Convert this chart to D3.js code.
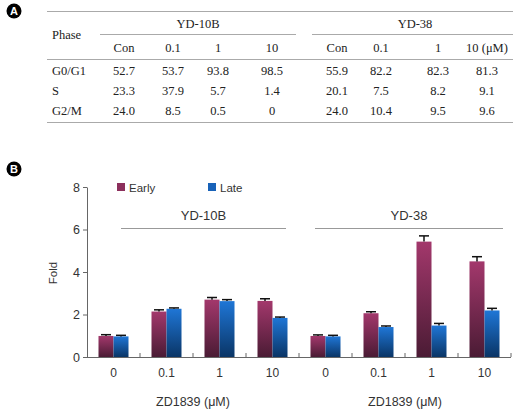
<html>
<head>
  <script src="https://d3js.org/d3.v7.min.js"></script>
  <style>
  body { margin: 0; background: #fff; }
  .tbl text { font-family: "Liberation Serif", "Times New Roman", serif; font-size: 12.5px; fill: #222; }
  .chart text { font-family: "Liberation Sans", Arial, sans-serif; font-size: 11px; fill: #333; }
  </style>
</head>
<body>
  <svg id="fig" width="519" height="411"></svg>
  <script>

// ---- panel A data ----
var cellLines = ["YD-10B", "YD-38"];
var doseHeads = ["Con", "0.1", "1", "10", "Con", "0.1", "1", "10 (\u03bcM)"];
var phases = ["G0/G1", "S", "G2/M"];
var phaseTable = [
  ["52.7", "53.7", "93.8", "98.5", "55.9", "82.2", "82.3", "81.3"],
  ["23.3", "37.9", "5.7", "1.4", "20.1", "7.5", "8.2", "9.1"],
  ["24.0", "8.5", "0.5", "0", "24.0", "10.4", "9.5", "9.6"]
];

// ---- panel B data ----
var doses = ["0", "0.1", "1", "10"];
var series = ["Early", "Late"];
var earlyVals = [0.99, 2.14, 2.70, 2.64, 0.99, 2.06, 5.43, 4.50];
var lateVals = [0.97, 2.27, 2.63, 1.84, 0.97, 1.41, 1.48, 2.19];
var earlyErr = [0.06, 0.08, 0.10, 0.10, 0.05, 0.07, 0.27, 0.22];
var lateErr = [0.05, 0.04, 0.07, 0.04, 0.05, 0.05, 0.10, 0.10];
var yTicks = [0, 2, 4, 6, 8];

var svg = d3.select("#fig");

// badge circles
function badge(x, y, letter) {
  svg.append("circle").attr("cx", x).attr("cy", y).attr("r", 7.5).attr("fill", "#000");
  svg.append("text").attr("x", x).attr("y", y + 4)
    .attr("text-anchor", "middle")
    .style("font-family", "Liberation Sans, Arial, sans-serif")
    .style("font-size", "11px").style("font-weight", "bold")
    .attr("fill", "#fff").text(letter);
}
badge(14, 11, "A");
badge(14, 169, "B");

// ---------- table ----------
var tbl = svg.append("g").attr("class", "tbl");
var colPos = [124, 173, 218, 272, 337, 381, 438, 487];
var rowY = d3.scalePoint().domain(phases).range([74.5, 115]);
var lineCol = "#aaa";

function hline(x1, x2, y) {
  tbl.append("line").attr("x1", x1).attr("x2", x2).attr("y1", y).attr("y2", y)
    .attr("stroke", lineCol).attr("stroke-width", 1);
}
hline(47, 513, 11.5);
hline(100, 296, 34.5);
hline(312, 513, 34.5);
hline(47, 513, 59.5);
hline(47, 513, 122.5);

tbl.append("text").attr("x", 52).attr("y", 39).text("Phase");
tbl.append("text").attr("x", 198).attr("y", 28).attr("text-anchor", "middle").text(cellLines[0]);
tbl.append("text").attr("x", 415).attr("y", 28).attr("text-anchor", "middle").text(cellLines[1]);

tbl.selectAll(".hd").data(doseHeads).enter().append("text")
  .attr("x", function(d, i) { return colPos[i]; })
  .attr("y", 51.5)
  .attr("text-anchor", "middle")
  .text(function(d) { return d; });

phases.forEach(function(p, r) {
  tbl.append("text").attr("x", 52).attr("y", rowY(p)).text(p);
  tbl.selectAll(".r" + r).data(phaseTable[r]).enter().append("text")
    .attr("x", function(d, i) { return colPos[i]; })
    .attr("y", rowY(p))
    .attr("text-anchor", "middle")
    .text(function(d) { return d; });
});

// ---------- bar chart ----------
var chart = svg.append("g").attr("class", "chart");
var keys = d3.range(8);
var x = d3.scaleBand().domain(keys).range([87, 511]);
var xs = d3.scaleBand().domain(series).range([0, 30]);
var y = d3.scaleLinear().domain([0, 8]).range([357, 187]);

var defs = svg.append("defs");
function grad(id, top, bottom) {
  var g = defs.append("linearGradient").attr("id", id)
    .attr("x1", 0).attr("y1", 0).attr("x2", 0).attr("y2", 1);
  g.append("stop").attr("offset", "0%").attr("stop-color", top);
  g.append("stop").attr("offset", "100%").attr("stop-color", bottom);
}
grad("gEarly", "#a3386c", "#4a1b34");
grad("gLate", "#1f76d6", "#0a3566");
var fills = { Early: "url(#gEarly)", Late: "url(#gLate)" };
var solid = { Early: "#8c2f5c", Late: "#1862b8" };

// y axis
var yAxis = d3.axisLeft(y).tickValues(yTicks).tickSize(4).tickSizeOuter(0);
var ya = chart.append("g").attr("transform", "translate(87,0)").call(yAxis);
ya.select(".domain").attr("stroke", "#666");
ya.selectAll(".tick line").attr("stroke", "#666");
ya.selectAll(".tick text").attr("x", -7).style("font-size", "12.5px");

// x axis line and separators
chart.append("line").attr("x1", 87).attr("x2", 511).attr("y1", 357.5).attr("y2", 357.5).attr("stroke", "#666");
chart.selectAll(".sep").data(keys.slice(1).concat([8])).enter().append("line")
  .attr("x1", function(d) { return d < 8 ? x(d) : x(7) + x.bandwidth(); })
  .attr("x2", function(d) { return d < 8 ? x(d) : x(7) + x.bandwidth(); })
  .attr("y1", 357).attr("y2", 353).attr("stroke", "#666");

// x labels
chart.selectAll(".xl").data(keys).enter().append("text")
  .attr("x", function(d) { return x(d) + x.bandwidth() / 2; })
  .attr("y", 377)
  .attr("text-anchor", "middle")
  .style("font-size", "12px")
  .text(function(d) { return doses[d % 4]; });

[0, 4].forEach(function(k) {
  var cx = (x(k) + x(k + 3) + x.bandwidth()) / 2;
  chart.append("text").attr("x", cx).attr("y", 406).attr("text-anchor", "middle")
    .style("font-size", "12.5px").text("ZD1839 (\u03bcM)");
});

// bars
var barData = [];
keys.forEach(function(k) {
  barData.push({ k: k, s: "Early", v: earlyVals[k], e: earlyErr[k] });
  barData.push({ k: k, s: "Late", v: lateVals[k], e: lateErr[k] });
});
var off = (x.bandwidth() - 30) / 2;
chart.selectAll(".bar").data(barData).enter().append("rect")
  .attr("x", function(d) { return x(d.k) + off + xs(d.s); })
  .attr("y", function(d) { return y(d.v); })
  .attr("width", xs.bandwidth())
  .attr("height", function(d) { return y(0) - y(d.v); })
  .attr("fill", function(d) { return fills[d.s]; });

// error bars (upper only)
var eb = chart.selectAll(".eb").data(barData).enter().append("g");
eb.append("line")
  .attr("x1", function(d) { return x(d.k) + off + xs(d.s) + xs.bandwidth() / 2; })
  .attr("x2", function(d) { return x(d.k) + off + xs(d.s) + xs.bandwidth() / 2; })
  .attr("y1", function(d) { return y(d.v); })
  .attr("y2", function(d) { return y(d.v + d.e); })
  .attr("stroke", "#111").attr("stroke-width", 1.5);
eb.append("line")
  .attr("x1", function(d) { return x(d.k) + off + xs(d.s) + xs.bandwidth() / 2 - 5; })
  .attr("x2", function(d) { return x(d.k) + off + xs(d.s) + xs.bandwidth() / 2 + 5; })
  .attr("y1", function(d) { return y(d.v + d.e); })
  .attr("y2", function(d) { return y(d.v + d.e); })
  .attr("stroke", "#111").attr("stroke-width", 1.5);

// cell line labels and brackets
var spans = [[121, 286], [315, 503]];
[0, 4].forEach(function(k, i) {
  chart.append("line").attr("x1", spans[i][0]).attr("x2", spans[i][1])
    .attr("y1", 228.5).attr("y2", 228.5).attr("stroke", "#999");
  chart.append("text").attr("x", (spans[i][0] + spans[i][1]) / 2).attr("y", 220)
    .attr("text-anchor", "middle").style("font-size", "13px").text(cellLines[i]);
});

// legend
var leg = chart.selectAll(".leg").data(series).enter().append("g")
  .attr("transform", function(d, i) { return "translate(" + (117 + i * 91) + ",183)"; });
leg.append("rect").attr("width", 8).attr("height", 8).attr("fill", function(d) { return solid[d]; });
leg.append("text").attr("x", 12).attr("y", 8.5).style("font-size", "11.5px").text(function(d) { return d; });

// y title
chart.append("text").attr("transform", "translate(57,273) rotate(-90)")
  .attr("text-anchor", "middle").style("font-size", "11.5px").text("Fold");

  </script>
</body>
</html>
